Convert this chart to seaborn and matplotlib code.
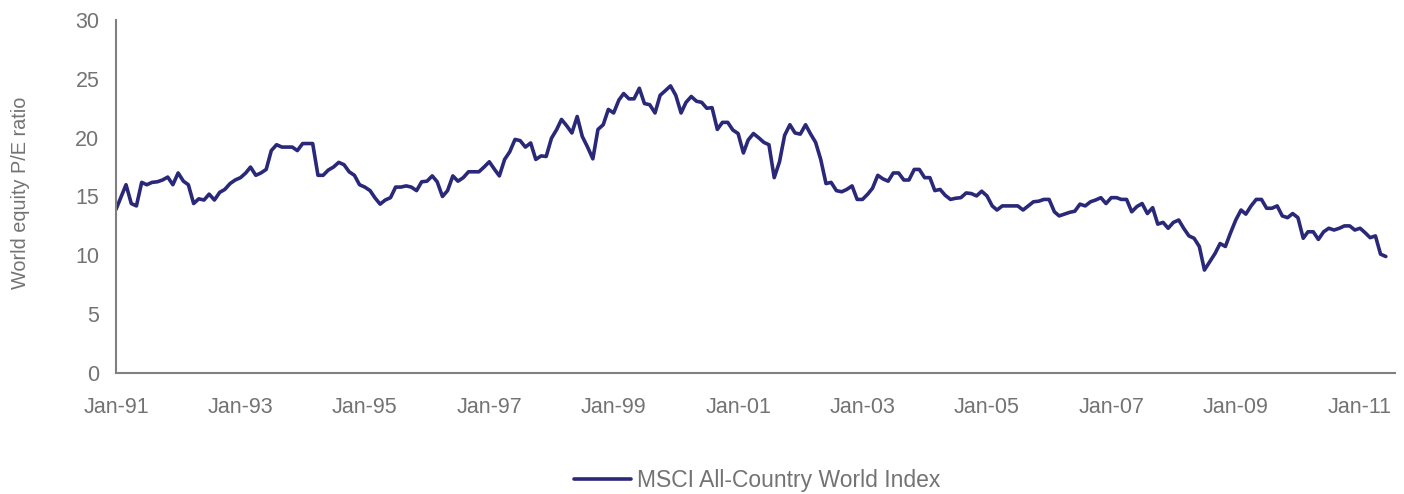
import matplotlib
matplotlib.use("Agg")
import matplotlib.pyplot as plt
import seaborn as sns
import pandas as pd
import numpy as np

# Monthly MSCI ACWI P/E ratio, Jan-1991 .. Jun-2011
pe_values = [
    13.9, 15.0, 16.0, 14.4, 14.2, 16.2, 16.0, 16.2, 16.25, 16.4, 16.65, 16.0,   # 1991
    17.0, 16.3, 16.0, 14.4, 14.8, 14.7, 15.2, 14.7, 15.35, 15.6, 16.1, 16.4,    # 1992
    16.6, 17.0, 17.5, 16.8, 17.0, 17.3, 18.9, 19.4, 19.2, 19.2, 19.2, 18.9,     # 1993
    19.5, 19.5, 19.5, 16.8, 16.8, 17.25, 17.5, 17.9, 17.7, 17.1, 16.8, 16.0,    # 1994
    15.8, 15.5, 14.9, 14.35, 14.7, 14.9, 15.8, 15.8, 15.9, 15.8, 15.5, 16.25,   # 1995
    16.3, 16.75, 16.25, 15.0, 15.5, 16.75, 16.3, 16.6, 17.1, 17.1, 17.1, 17.5,  # 1996
    17.95, 17.3, 16.75, 18.15, 18.8, 19.85, 19.75, 19.2, 19.55, 18.15, 18.45, 18.4,  # 1997
    19.95, 20.7, 21.55, 21.0, 20.4, 21.8, 20.1, 19.2, 18.2, 20.7, 21.1, 22.4,   # 1998
    22.1, 23.2, 23.75, 23.3, 23.3, 24.2, 22.9, 22.8, 22.1, 23.6, 24.0, 24.4,    # 1999
    23.6, 22.1, 23.0, 23.5, 23.1, 23.0, 22.5, 22.55, 20.7, 21.3, 21.3, 20.65,   # 2000
    20.35, 18.7, 19.8, 20.35, 20.0, 19.6, 19.4, 16.6, 17.95, 20.2, 21.1, 20.4,  # 2001
    20.3, 21.1, 20.35, 19.6, 18.15, 16.1, 16.2, 15.5, 15.4, 15.6, 15.9, 14.75,  # 2002
    14.75, 15.2, 15.7, 16.8, 16.5, 16.3, 17.0, 17.0, 16.4, 16.4, 17.3, 17.3,    # 2003
    16.6, 16.6, 15.5, 15.6, 15.1, 14.75, 14.85, 14.9, 15.3, 15.25, 15.05, 15.45,  # 2004
    15.05, 14.2, 13.85, 14.2, 14.2, 14.2, 14.2, 13.85, 14.2, 14.55, 14.6, 14.75,  # 2005
    14.75, 13.7, 13.35, 13.5, 13.65, 13.75, 14.35, 14.2, 14.55, 14.7, 14.9, 14.4,  # 2006
    14.9, 14.9, 14.75, 14.75, 13.7, 14.15, 14.4, 13.55, 14.05, 12.65, 12.8, 12.3,  # 2007
    12.8, 13.0, 12.3, 11.65, 11.45, 10.75, 8.75, 9.45, 10.15, 11.0, 10.75, 11.9,   # 2008
    13.0, 13.85, 13.5, 14.2, 14.75, 14.75, 14.0, 14.0, 14.2, 13.35, 13.2, 13.55,   # 2009
    13.2, 11.45, 12.0, 12.0, 11.35, 12.0, 12.3, 12.15, 12.3, 12.5, 12.5, 12.15,    # 2010
    12.3, 11.9, 11.5, 11.65, 10.1, 9.9,                                           # 2011
]
series_name = "MSCI All-Country World Index"
y_label = "World equity P/E ratio"
y_ticks = [0, 5, 10, 15, 20, 25, 30]
x_tick_labels = ["Jan-91", "Jan-93", "Jan-95", "Jan-97", "Jan-99", "Jan-01",
                 "Jan-03", "Jan-05", "Jan-07", "Jan-09", "Jan-11"]

dates = pd.date_range("1991-01-01", periods=len(pe_values), freq="MS")
df = pd.DataFrame({"date": dates, "pe": pe_values, "series": series_name})
x_tick_dates = pd.to_datetime(x_tick_labels, format="%b-%y")

sns.set_style("white")
plt.rcParams["font.family"] = ["Liberation Sans", "DejaVu Sans"]

line_color = "#2a2878"
text_color = "#737373"
spine_color = "#808080"

fig = plt.figure(figsize=(14.04, 4.94), dpi=100)
ax = fig.add_axes([0.0826, 0.245, 0.911, 0.7145])

sns.lineplot(data=df, x="date", y="pe", hue="series", palette=[line_color],
             linewidth=2.6, ax=ax, legend=False)

ax.set_ylim(0, 30)
ax.set_yticks(y_ticks)
ax.set_xlim(pd.Timestamp("1991-01-01"), pd.Timestamp("2011-07-25"))
ax.set_xticks(x_tick_dates)
ax.set_xticklabels(x_tick_labels)

for s in ["top", "right"]:
    ax.spines[s].set_visible(False)
for s in ["left", "bottom"]:
    ax.spines[s].set_color(spine_color)
    ax.spines[s].set_linewidth(1.5)

ax.tick_params(axis="both", length=0, labelsize=15.5, colors=text_color)
ax.tick_params(axis="x", pad=17)
ax.tick_params(axis="y", pad=12)
ax.set_xlabel("")
ax.set_ylabel(y_label, fontsize=14.3, color=text_color)
ax.yaxis.set_label_coords(-0.067, 0.51)

handle = plt.Line2D([], [], color=line_color, linewidth=2.6)
fig.legend([handle], [series_name], loc="lower center", bbox_to_anchor=(0.539, -0.038),
           frameon=False, fontsize=16.5, labelcolor=text_color,
           handlelength=2.5, handletextpad=0.25)

fig.savefig("out.png", dpi=100)
